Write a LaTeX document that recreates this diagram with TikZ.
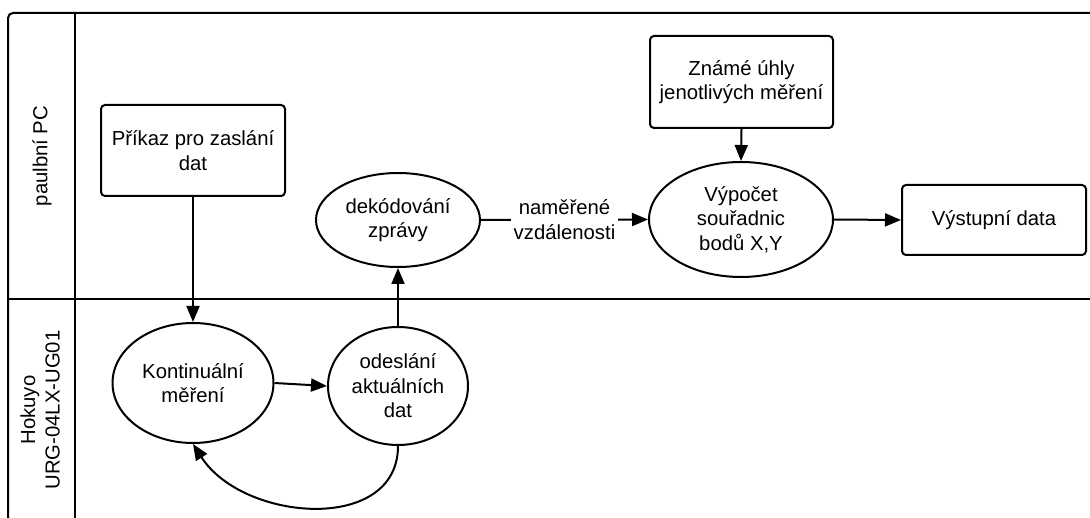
\documentclass[tikz,border=0pt]{standalone}
\usepackage{fontspec}
\setmainfont{Liberation Sans}
\usetikzlibrary{shapes.geometric,arrows.meta}

\begin{document}
\begin{tikzpicture}[x=1pt,y=-1pt,
  line width=2pt,
  every node/.style={font=\fontsize{20.3}{24.5}\selectfont, align=center, inner sep=0pt},
  procbox/.style={draw, rectangle, rounded corners=4pt},
  procell/.style={draw, ellipse},
  arr/.style={-{Triangle[width=13pt,length=16pt]}},
  lanelabel/.style={rotate=90}
]
\useasboundingbox (0,0) rectangle (1090,518);

% swimlane frame
\draw[rounded corners=5pt] (8,518) -- (8,13) -- (1090,13);
\draw (8,299) -- (1090,299);
\draw (75,13) -- (75,518);

% lane titles
\node[lanelabel] (laneA) at (42,156) {paulbní PC};
\node[lanelabel] (laneB) at (40,410) {Hokuyo\\URG-04LX-UG01};

% upper lane
\node[procbox, minimum width=184pt, minimum height=91pt] (cmd) at (193,150.5) {Příkaz pro zaslání\\dat};
\node[procell, minimum width=164pt, minimum height=94pt] (dek) at (398,220) {dekódování\\zprávy};
\node[procbox, minimum width=183pt, minimum height=92pt] (uhly) at (741.5,82) {Známé úhly\\jenotlivých měření};
\node[procell, minimum width=184pt, minimum height=115pt] (vyp) at (741,219.5) {Výpočet\\souřadnic\\bodů X,Y};
\node[procbox, minimum width=184pt, minimum height=70pt] (out) at (994,220) {Výstupní data};

% lower lane
\node[procell, minimum width=161pt, minimum height=120pt] (kont) at (193,383) {Kontinuální\\měření};
\node[procell, minimum width=140pt, minimum height=118pt] (odes) at (398,386) {odeslání\\aktuálních\\dat};

% connectors
\draw[arr] (cmd.south) -- (kont.north);
\draw[arr] (kont.east) -- (odes.west);
\draw[arr] (odes.north) -- (dek.south);
\draw[arr] (dek.east) -- node[fill=white, inner xsep=3pt, inner ysep=2pt] (lbl) {naměřené\\vzdálenosti} (vyp.west);
\draw[arr] (uhly.south) -- (vyp.north);
\draw[arr] (vyp.east) -- (out.west);
\draw[arr] (odes.south) .. controls +(0,88) and +(50,78) .. (kont.south);
\end{tikzpicture}
\end{document}
